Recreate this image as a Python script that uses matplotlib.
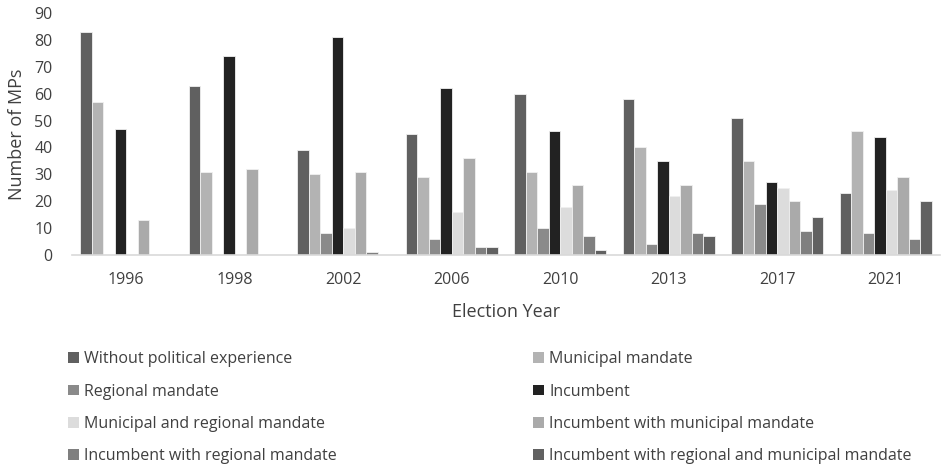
import numpy as np
import matplotlib; matplotlib.use("Agg")
import matplotlib.pyplot as plt
from matplotlib.patches import Patch

plt.rcParams['font.family'] = ['Open Sans', 'DejaVu Sans']

years = ["1996", "1998", "2002", "2006", "2010", "2013", "2017", "2021"]
series = ["Without political experience", "Municipal mandate", "Regional mandate", "Incumbent",
          "Municipal and regional mandate", "Incumbent with municipal mandate",
          "Incumbent with regional mandate", "Incumbent with regional and municipal mandate"]
without_exp   = [83, 63, 39, 45, 60, 58, 51, 23]
municipal     = [57, 31, 30, 29, 31, 40, 35, 46]
regional      = [0, 0, 8, 6, 10, 4, 19, 8]
incumbent     = [47, 74, 81, 62, 46, 35, 27, 44]
mun_reg       = [0, 0, 10, 16, 18, 22, 25, 24]
inc_mun       = [13, 32, 31, 36, 26, 26, 20, 29]
inc_reg       = [0, 0, 1, 3, 7, 8, 9, 6]
inc_reg_mun   = [0, 0, 0, 3, 2, 7, 14, 20]
values = [without_exp, municipal, regional, incumbent, mun_reg, inc_mun, inc_reg, inc_reg_mun]
colors = ["#606060", "#b3b3b3", "#8a8a8a", "#222222", "#dcdcdc", "#aaaaaa", "#7f7f7f", "#616161"]

fig = plt.figure(figsize=(9.41, 4.67), dpi=100)
ax = fig.add_axes([72/941, 1-255/467, 868/941, 242/467])
x = np.arange(len(years))
n = len(series); w = 0.85/n
for i, (vals, c) in enumerate(zip(values, colors)):
    ax.bar(x - 0.425 + w*(i+0.5), vals, width=w, color=c, edgecolor="#f0f0f0", linewidth=0.6)

ax.set_xlim(-0.5, len(years)-0.5); ax.set_ylim(0, 90)
ax.set_yticks(range(0, 91, 10))
ax.set_xticks(x); ax.set_xticklabels(years)
ax.tick_params(axis="both", length=0, labelsize=11.5, colors="#404040")
ax.tick_params(axis="x", pad=12)
ax.tick_params(axis="y", pad=14)
for s in ["top", "right", "left"]: ax.spines[s].set_visible(False)
ax.spines["bottom"].set_color("#d9d9d9"); ax.spines["bottom"].set_linewidth(1.2)
ax.set_ylabel("Number of MPs", fontsize=13, color="#404040", labelpad=6)
ax.set_xlabel("Election Year", fontsize=13, color="#404040", labelpad=11)

kw = dict(frameon=False, fontsize=11.5, handlelength=0.65, handleheight=0.65, handletextpad=0.35,
          labelspacing=1.02, borderaxespad=0, labelcolor="#404040")
h = [Patch(facecolor=c) for c in colors]
fig.legend([h[i] for i in (0, 2, 4, 6)], [series[i] for i in (0, 2, 4, 6)],
           loc="upper left", bbox_to_anchor=(62/941, 1-345/467), **kw)
fig.legend([h[i] for i in (1, 3, 5, 7)], [series[i] for i in (1, 3, 5, 7)],
           loc="upper left", bbox_to_anchor=(527/941, 1-345/467), **kw)
fig.savefig("out.png", dpi=100)
